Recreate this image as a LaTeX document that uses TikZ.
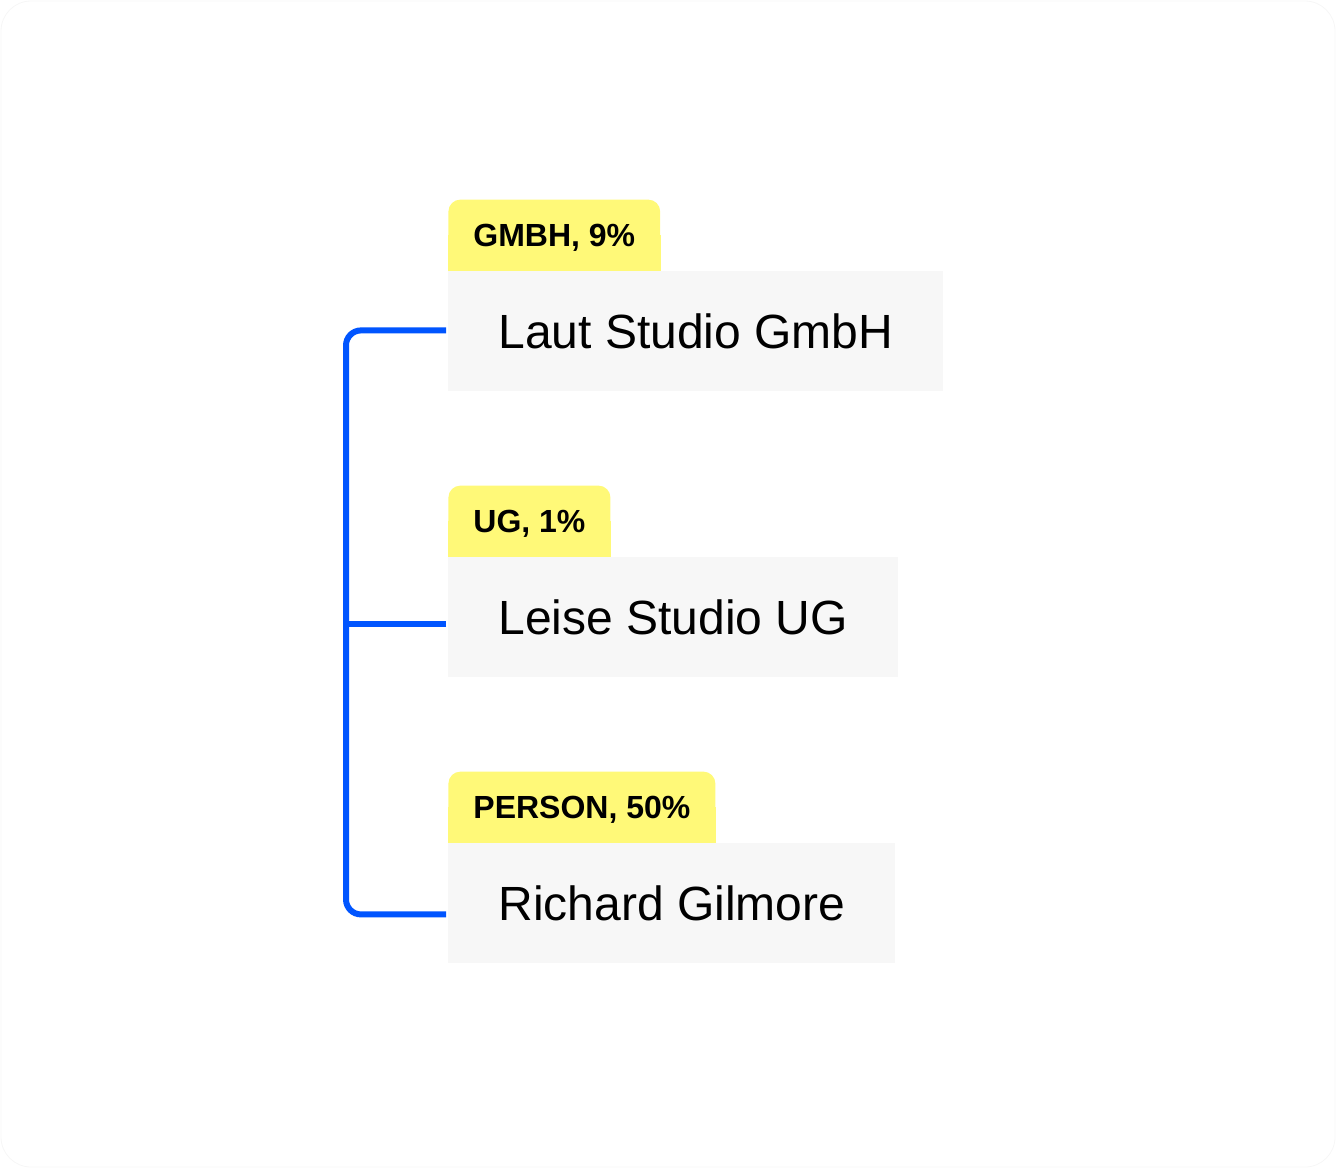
\documentclass[tikz,border=0pt]{standalone}
\usepackage{fontspec}
\setmainfont{Liberation Sans}
\newfontfamily\tagfont{Liberation Sans}
\usetikzlibrary{positioning, calc, backgrounds}
\definecolor{tagyellow}{HTML}{FFF978}
\definecolor{boxgray}{HTML}{F7F7F7}
\definecolor{linkblue}{HTML}{0055FF}
\definecolor{framegray}{HTML}{F6F6F6}
\tikzset{
  entity/.style={fill=boxgray, anchor=north west, minimum height=60pt,
    inner xsep=25pt, inner ysep=0pt, font=\fontsize{24}{28}\selectfont},
  tag/.style={fill=tagyellow, rounded corners=6pt, anchor=south west,
    minimum height=35.5pt, inner xsep=12.5pt, inner ysep=0pt,
    text height=11.5pt, text depth=0pt,
    font=\tagfont\bfseries\fontsize{16}{20}\selectfont},
  link/.style={draw=linkblue, line width=3pt, rounded corners=7.5pt}
}
\begin{document}
\begin{tikzpicture}[x=0.5pt, y=-0.5pt]
    % Page with faint rounded frame
    \useasboundingbox (0,0) rectangle (1336,1168);
    \draw[framegray, line width=0.4pt, rounded corners=15pt] (1,1) rectangle (1335,1167);

    % Entity boxes
    \node[entity] (laut) at (448,271) {Laut Studio GmbH};
    \node[entity] (leise) at (448,557) {Leise Studio UG};
    \node[entity] (richard) at (448,843) {Richard Gilmore};

    % Type tags sitting on the boxes
    \node[tag] (lauttag) at (laut.north west) {GMBH, 9\%};
    \node[tag] (leisetag) at (leise.north west) {UG, 1\%};
    \node[tag] (richardtag) at (richard.north west) {PERSON, 50\%};
    % square off the lower corners of the tags
    \begin{scope}[on background layer]
        \foreach \t in {lauttag, leisetag, richardtag}
            \fill[tagyellow] (\t.west) rectangle (\t.south east);
    \end{scope}

    % Ends of the connectors
    \coordinate (lautend) at ([xshift=-1pt, yshift=0.5pt]laut.west);
    \coordinate (leiseend) at ([xshift=-1pt, yshift=-3.5pt]leise.west);
    \coordinate (richardend) at ([xshift=-1pt, yshift=-5.5pt]richard.west);

    % Bracket joining the entities
    \draw[link] (lautend) -- ++(-100,0) |- (richardend);
    \draw[link] (leiseend) -- ++(-100,0);
\end{tikzpicture}
\end{document}
